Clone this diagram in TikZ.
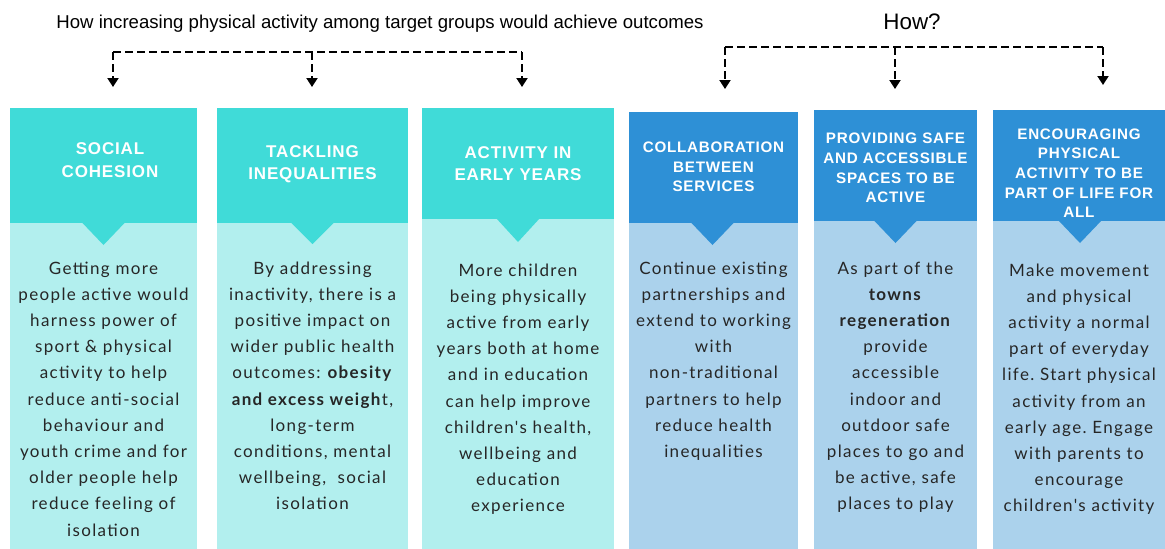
\documentclass[tikz,border=0pt]{standalone}
\usepackage{fontspec}
\setmainfont{Liberation Sans}
\newfontfamily\bodyfont{Lato}[LetterSpace=8]
\newfontfamily\headfont{Liberation Sans}[LetterSpace=5]
\usetikzlibrary{arrows.meta}
\frenchspacing

\definecolor{tealhd}{RGB}{64,219,216}
\definecolor{tealbd}{RGB}{178,239,238}
\definecolor{bluehd}{RGB}{46,144,214}
\definecolor{bluebd}{RGB}{171,210,236}
\definecolor{txt}{RGB}{38,38,38}

\begin{document}
\begin{tikzpicture}[x=1pt,y=-1pt,
    hd/.style={font=\headfont\bfseries\fontsize{17}{22.7}\selectfont,text=white,align=center,anchor=north,inner sep=0pt},
    hdb/.style={hd,font=\headfont\bfseries\fontsize{15.2}{19.6}\selectfont},
    bd/.style={font=\bodyfont\fontsize{17}{26.2}\selectfont,text=txt,align=center,anchor=north,inner sep=0pt},
    bus/.style={line width=2pt,dash pattern=on 8pt off 4pt},
    busarrow/.style={bus,-{Triangle[width=11pt,length=9pt]}}]
  \useasboundingbox (0,0) rectangle (1165,549);

  % titles
  \node[font=\fontsize{18.6}{22}\selectfont,anchor=base] (ttl) at (380,28.3) {How increasing physical activity among target groups would achieve outcomes};
  \node[font=\fontsize{22.4}{26}\selectfont,anchor=base] (how) at (912,29.3) {How?};

  % dashed buses
  \coordinate (lA) at (113,52);
  \coordinate (lB) at (312,52);
  \coordinate (lC) at (522,52);
  \coordinate (lAe) at (113,87);
  \coordinate (lBe) at (312,87);
  \coordinate (lCe) at (522,87);
  \draw[bus] (lA) -- (lC);
  \draw[busarrow] (lA) -- (lAe);
  \draw[busarrow] (lB) -- (lBe);
  \draw[busarrow] (lC) -- (lCe);

  \coordinate (rA) at (725,47);
  \coordinate (rB) at (895,47);
  \coordinate (rC) at (1103,47);
  \coordinate (rAe) at (725,89);
  \coordinate (rBe) at (895,89);
  \coordinate (rCe) at (1103,85);
  \draw[bus] (rA) -- (rC);
  \draw[busarrow] (rA) -- (rAe);
  \draw[busarrow] (rB) -- (rBe);
  \draw[busarrow] (rC) -- (rCe);

  % outcome columns
  \fill[tealbd] (10,108) rectangle (197,549);
  \fill[tealhd] (10,108) rectangle (197,223);
  \fill[tealhd] (81.5,222) -- (125.5,222) -- (103.5,245) -- cycle;
  \fill[tealbd] (217,108) rectangle (408,549);
  \fill[tealhd] (217,108) rectangle (408,223);
  \fill[tealhd] (290.5,222) -- (334.5,222) -- (312.5,244) -- cycle;
  \fill[tealbd] (422,108) rectangle (614,549);
  \fill[tealhd] (422,108) rectangle (614,219);
  \fill[tealhd] (496,218) -- (540,218) -- (518,242) -- cycle;

  % how columns
  \fill[bluebd] (629,112) rectangle (798,549);
  \fill[bluehd] (629,112) rectangle (798,223);
  \fill[bluehd] (690.5,222) -- (734.5,222) -- (712.5,245) -- cycle;
  \fill[bluebd] (814,110) rectangle (977,549);
  \fill[bluehd] (814,110) rectangle (977,221);
  \fill[bluehd] (873.5,220) -- (917.5,220) -- (895.5,243) -- cycle;
  \fill[bluebd] (993,110) rectangle (1165,549);
  \fill[bluehd] (993,110) rectangle (1165,221);
  \fill[bluehd] (1058,220) -- (1102,220) -- (1080,243) -- cycle;

  % headers
  \node[hd] (h1) at (110,142.8) {SOCIAL\\COHESION};
  \node[hd] (h2) at (312.5,145.1) {TACKLING\\INEQUALITIES};
  \node[hd] (h3) at (518,146.1) {ACTIVITY IN\\EARLY YEARS};
  \node[hdb] (h4) at (713.5,141.8) {COLLABORATION\\BETWEEN\\SERVICES};
  \node[hdb] (h5) at (895.5,133.1) {PROVIDING SAFE\\AND ACCESSIBLE\\SPACES TO BE\\ACTIVE};
  \node[hdb] (h6) at (1079,128.4) {ENCOURAGING\\PHYSICAL\\ACTIVITY TO BE\\PART OF LIFE FOR\\ALL};

  % body texts
  \node[bd] (b1) at (103.5,261.4) {Getting more\\people active would\\harness power of\\sport \& physical\\activity to help\\reduce anti-social\\behaviour and\\youth crime and for\\older people help\\reduce feeling of\\isolation};
  \node[bd] (b2) at (312.5,261.4) {By addressing\\inactivity, there is a\\positive impact on\\wider public health\\outcomes: \textbf{obesity}\\\textbf{and excess weigh}t,\\long-term\\conditions, mental\\wellbeing,~ social\\isolation};
  \node[bd] (b3) at (518,263.4) {More children\\being physically\\active from early\\years both at home\\and in education\\can help improve\\children's health,\\wellbeing and\\education\\experience};
  \node[bd] (b4) at (713.5,261.4) {Continue existing\\partnerships and\\extend to working\\with\\non-traditional\\partners to help\\reduce health\\inequalities};
  \node[bd] (b5) at (895.5,261.4) {As part of the\\\textbf{towns}\\\textbf{regeneration}\\provide\\accessible\\indoor and\\outdoor safe\\places to go and\\be active, safe\\places to play};
  \node[bd] (b6) at (1079,263.4) {Make movement\\and physical\\activity a normal\\part of everyday\\life. Start physical\\activity from an\\early age. Engage\\with parents to\\encourage\\children's activity};
\end{tikzpicture}
\end{document}
